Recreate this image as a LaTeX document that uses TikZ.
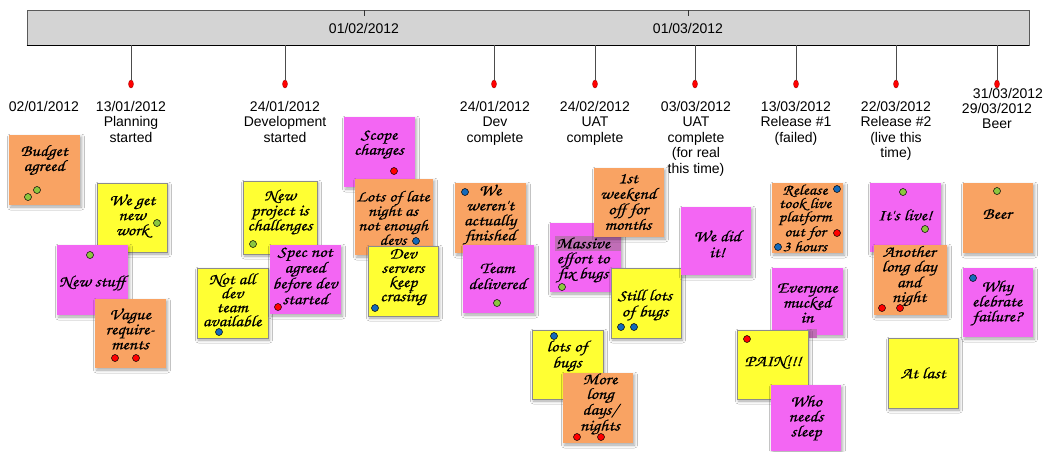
\documentclass[tikz,border=0pt]{standalone}
\usepackage{fontspec}
\setmainfont{Liberation Sans}
\newfontfamily\hand[FakeStretch=1.15, FakeBold=0.5]{texgyrechorus-mediumitalic.otf}
\usetikzlibrary{shadows.blur,shapes.geometric}

\definecolor{barfill}{RGB}{212,212,212}
\definecolor{baredge}{RGB}{90,90,90}
\definecolor{pOrange}{RGB}{249,163,99}
\definecolor{pMagenta}{RGB}{243,102,243}
\definecolor{pYellow}{RGB}{255,255,51}
\definecolor{pGreen}{RGB}{140,198,63}
\definecolor{pBlue}{RGB}{20,105,185}
\definecolor{pRed}{RGB}{255,0,0}
\definecolor{mauve}{RGB}{192,110,182}

\tikzset{
  postit/.style={rectangle, inner sep=0, minimum width=71pt, minimum height=70pt,
    blur shadow={shadow xshift=1.5pt, shadow yshift=-2pt, shadow blur radius=3pt, shadow opacity=35}},
  orangenote/.style={postit, fill=pOrange},
  magentanote/.style={postit, fill=pMagenta},
  yellownote/.style={postit, fill=pYellow, draw=black!45, line width=0.8pt},
  hand/.style={font=\hand\fontsize{16}{15}\selectfont, align=center, inner sep=0},
  pindot/.style={circle, draw=black, line width=0.5pt, minimum size=7pt, inner sep=0},
  gpin/.style={pindot, fill=pGreen},
  bpin/.style={pindot, fill=pBlue},
  rpin/.style={pindot, fill=pRed},
  stem/.style={draw=black!70, line width=0.7pt},
  milestone/.style={ellipse, fill=pRed, draw=red!60!black, line width=0.3pt, minimum width=5pt, minimum height=8pt, inner sep=0},
  datelabel/.style={font=\fontsize{14}{15.5}\selectfont, align=center, anchor=north, inner sep=0},
}

\begin{document}
\begin{tikzpicture}[x=1pt, y=-1pt]
\useasboundingbox (0,0) rectangle (1045,451);
\fill[white] (0,0) rectangle (1045,451);

% timeline bar
\node[rectangle, fill=barfill, draw=baredge, line width=0.8pt, minimum width=1002pt, minimum height=35pt, inner sep=0] (bar) at (528,27.5) {};
\draw[black, line width=1.2pt] (bar.south west) -- (bar.south east);
\coordinate (febtick) at (364,10);
\coordinate (martick) at (688,10);
\draw[black!80, line width=0.7pt] (febtick) -- ++(0,6);
\draw[black!80, line width=0.7pt] (martick) -- ++(0,6);
\node[font=\fontsize{14}{15.5}\selectfont, inner sep=0] (feb) at (364,28) {01/02/2012};
\node[font=\fontsize{14}{15.5}\selectfont, inner sep=0] (mar) at (688,28) {01/03/2012};

% milestones
\foreach \n/\x in {m1/131, m2/285, m3/494, m4/595, m5/695, m6/796, m7/896, m8/997}{
  \node[milestone] (\n) at (\x,84) {};
  \draw[stem] (\x,45) -- (\n.north);
}

% milestone labels
\node[datelabel] (l0) at (44,101) {02/01/2012};
\node[datelabel] (l1) at (131,101) {13/01/2012\\Planning\\started};
\node[datelabel] (l2) at (285,101) {24/01/2012\\Development\\started};
\node[datelabel] (l3) at (495,101) {24/01/2012\\Dev\\complete};
\node[datelabel] (l4) at (595,101) {24/02/2012\\UAT\\complete};
\node[datelabel] (l5) at (696,101) {03/03/2012\\UAT\\complete\\(for real\\this time)};
\node[datelabel] (l6) at (796,101) {13/03/2012\\Release \#1\\(failed)};
\node[datelabel] (l7) at (896,101) {22/03/2012\\Release \#2\\(live this\\time)};
\node[datelabel] (l8) at (997,103) {29/03/2012\\Beer};
\node[font=\fontsize{14}{15.5}\selectfont, inner sep=0, anchor=base, text depth=0pt] (l9) at (1008,98.5) {31/03/2012};

% ---- sticky notes ----
% January
\node[orangenote] (budget) at (44.5,170) {};
\node[hand] (budget-t) at (44,160) {Budget\\agreed};
\node[gpin] (budget-p1) at (28,197) {};
\node[gpin] (budget-p2) at (37,190) {};

\node[yellownote, minimum width=70pt, minimum height=69pt] (getwork) at (132,217.5) {};
\node[hand] (getwork-t) at (132,216) {We get\\new\\work};
\node[gpin] (getwork-p) at (157,223) {};

\node[magentanote] (newstuff) at (92.5,280) {};
\node[hand] (newstuff-t) at (92,283) {New stuff};
\node[gpin] (newstuff-p) at (90,255) {};

\node[orangenote, minimum height=69pt] (vague) at (130.5,333.5) {};
\node[hand] (vague-t) at (130,329) {Vague\\require-\\ments};
\node[rpin] (vague-p1) at (115,358) {};
\node[rpin] (vague-p2) at (136,358) {};

\node[yellownote] (notall) at (232.5,303) {};
\node[hand, font=\hand\fontsize{16}{14}\selectfont] (notall-t) at (232,300) {Not all\\dev\\team\\available};
\node[bpin] (notall-p) at (219,332) {};

\node[yellownote, minimum width=74pt, minimum height=73pt] (newproj) at (280,217.5) {};
\node[hand] (newproj-t) at (280,212) {New\\project is\\challenges};
\node[gpin] (newproj-p) at (253,244) {};

\node[magentanote, minimum height=69pt] (spec) at (305.5,279.5) {};
\node[hand, font=\hand\fontsize{16}{14.5}\selectfont] (spec-t) at (305,276) {Spec not\\agreed\\before dev\\started};
\node[rpin] (spec-p) at (278,307) {};

\node[magentanote] (scope) at (379.5,152) {};
\node[hand] (scope-t) at (379,144.5) {Scope\\changes};
\node[rpin] (scope-p) at (394,171) {};

\node[orangenote, minimum width=78pt, minimum height=76pt] (latenight) at (394,217) {};
\node[hand, font=\hand\fontsize{15.5}{14.5}\selectfont] (latenight-t) at (393,218) {Lots of late\\night as\\not enough\\devs};
\node[bpin] (latenight-p) at (416,241) {};

\node[yellownote, minimum width=70pt] (devservers) at (403,281) {};
\node[hand, font=\hand\fontsize{16}{14.2}\selectfont] (devservers-t) at (403,277) {Dev\\servers\\keep\\crasing};
\node[bpin] (devservers-p) at (375,308) {};

% Dev complete
\node[orangenote] (werent) at (490.5,218) {};
\node[hand] (werent-t) at (490,214.5) {We\\weren't\\actually\\finished};
\node[bpin] (werent-p) at (465,192) {};

\node[magentanote, minimum height=68pt] (team) at (498.5,279) {};
\node[hand, font=\hand\fontsize{16}{16}\selectfont] (team-t) at (497,276) {Team\\delivered};
\node[gpin] (team-p) at (497,303) {};

% UAT complete
\node[magentanote, minimum height=69pt] (massive) at (585.5,257.5) {};
\fill[mauve] (555,236) rectangle (621,251);
\node[hand] (massive-t) at (583,260) {Massive\\effort to\\fix bugs};
\node[gpin] (massive-p) at (562,287) {};

\node[orangenote, minimum width=70pt, minimum height=69pt] (firstwk) at (629,202.5) {};
\node[hand, font=\hand\fontsize{16}{15.5}\selectfont] (firstwk-t) at (628,202) {1st\\weekend\\off for\\months};

\node[yellownote, minimum width=70pt] (stilllots) at (646,303) {};
\node[hand, font=\hand\fontsize{16}{16}\selectfont] (stilllots-t) at (645,305) {Still lots\\of bugs};
\node[bpin] (stilllots-p1) at (621,327) {};
\node[bpin] (stilllots-p2) at (634,327) {};

\node[yellownote, minimum height=69pt] (lotsbugs) at (567.5,364.5) {};
\node[hand, font=\hand\fontsize{16}{16}\selectfont] (lotsbugs-t) at (567,356) {lots of\\bugs};
\node[bpin] (lotsbugs-p) at (554,336) {};

\node[orangenote, minimum width=70pt] (morelong) at (598,408) {};
\node[hand, font=\hand\fontsize{16}{14.7}\selectfont] (morelong-t) at (600,404) {More\\long\\days/\\nights};
\node[rpin] (morelong-p1) at (577,437) {};
\node[rpin] (morelong-p2) at (601,437) {};

% UAT complete (for real)
\node[magentanote, minimum width=70pt, minimum height=68pt] (didit) at (716,241) {};
\node[hand, font=\hand\fontsize{16}{16}\selectfont] (didit-t) at (717,244) {We did\\it!};

% Release #1
\node[orangenote] (release) at (807.5,218) {};
\node[hand, font=\hand\fontsize{15}{13.4}\selectfont] (release-t) at (805,218) {Release\\took live\\platform\\out for\\3 hours};
\node[bpin] (release-p1) at (837,189) {};
\node[rpin] (release-p2) at (837,233) {};
\node[bpin] (release-p3) at (778,247) {};

\node[magentanote, minimum height=67pt] (everyone) at (807.5,301.5) {};
\fill[mauve] (807,329) rectangle (817,338);
\node[hand] (everyone-t) at (807,303) {Everyone\\mucked\\in};

\node[yellownote, minimum height=69pt] (pain) at (772.5,364.5) {};
\node[hand] (pain-t) at (773,362) {PAIN!!!};
\node[rpin] (pain-p) at (747,339) {};

\node[magentanote, minimum width=70pt, minimum height=66pt] (sleep) at (806,418) {};
\node[hand] (sleep-t) at (806,418) {Who\\needs\\sleep};

% Release #2
\node[magentanote, minimum height=69pt] (itslive) at (905.5,217.5) {};
\node[hand] (itslive-t) at (905,215) {It's live!};
\node[gpin] (itslive-p1) at (903,192) {};
\node[gpin] (itslive-p2) at (925,229) {};

\node[orangenote, minimum width=73pt] (another) at (910.5,280) {};
\node[hand, font=\hand\fontsize{16}{14.7}\selectfont] (another-t) at (909,276) {Another\\long day\\and\\night};
\node[rpin] (another-p1) at (882,308) {};
\node[rpin] (another-p2) at (900,308) {};

\node[yellownote, minimum width=70pt] (atlast) at (923,373) {};
\node[hand] (atlast-t) at (923,373) {At last};

% Beer
\node[orangenote, minimum width=70pt] (beer) at (998,218) {};
\node[hand] (beer-t) at (997,214) {Beer};
\node[gpin] (beer-p) at (997,191) {};

\node[magentanote, minimum width=70pt, minimum height=69pt] (whyel) at (998,302.5) {};
\node[hand] (whyel-t) at (997,303) {Why\\elebrate\\failure?};
\node[bpin] (whyel-p) at (973,278) {};
\end{tikzpicture}
\end{document}
